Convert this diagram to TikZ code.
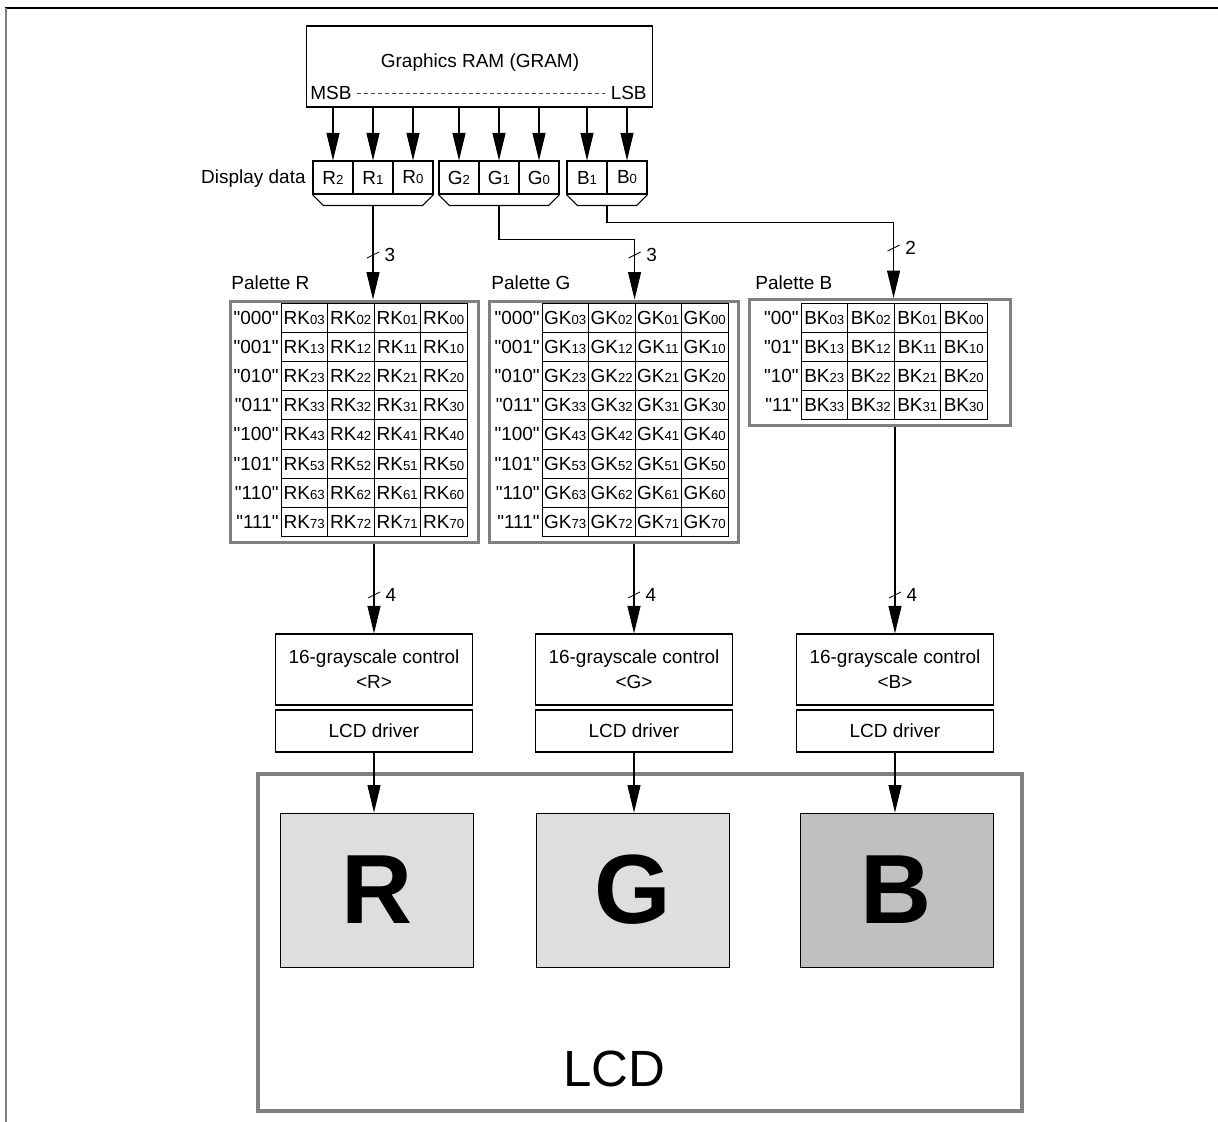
\documentclass[tikz,border=0pt]{standalone}
\usepackage{fontspec}
\newfontfamily\arial{Liberation Sans}
\usetikzlibrary{arrows.meta,calc}
\definecolor{frameGray}{RGB}{128,128,128}
\definecolor{panelLight}{RGB}{222,222,222}
\definecolor{panelDark}{RGB}{192,192,192}
\newcommand{\sbs}[1]{{\fontsize{7.5}{8}\selectfont #1}}

\begin{document}
\begin{tikzpicture}[
    x=0.02cm, y=-0.02cm,
    >={Triangle[length=0.55cm, width=0.26cm]},
    font=\arial\fontsize{10.8}{14.2}\selectfont,
    lbl/.style={inner sep=0pt},
    box/.style={draw, line width=0.6pt, inner sep=0pt, align=center},
    bit/.style={box, minimum width=0.8cm, minimum height=0.66cm},
    entry/.style={draw, line width=0.5pt, inner sep=0pt,
        minimum width=0.93cm, minimum height=0.584cm},
    palette/.style={draw=frameGray, line width=1.7pt, inner sep=0pt},
    arr/.style={line width=0.6pt, ->},
    bus/.style={line width=0.5pt},
    panel/.style={draw, line width=0.5pt, minimum width=3.86cm, minimum height=3.08cm,
        font=\arial\bfseries\fontsize{56}{56}\selectfont}
]
\useasboundingbox (0,0) rectangle (1218,1122);

% page frame
\draw[line width=0.9pt] (5,8) -- (1218,8);
\draw[frameGray, line width=1pt] (6,8) -- (6,1122);

% GRAM
\node[box, minimum width=6.94cm, minimum height=1.62cm] (gram) at (479.5,66.5) {};
\node[lbl] (gramlbl) at (480,63) {Graphics RAM (GRAM)};
\node[lbl, anchor=west] (msb) at (310,93) {MSB};
\node[lbl, anchor=east] (lsb) at (647,93) {LSB};
\draw[black!70, line width=0.4pt, dash pattern=on 0.08cm off 0.06cm,
    shorten <=0.1cm, shorten >=0.1cm] (msb.east) -- (lsb.west);

% display data
\node[lbl, anchor=east] (ddlbl) at (306,179) {Display data};
\foreach \c/\b/\x in {R/2/333, R/1/373, R/0/413, G/2/459, G/1/499, G/0/539, B/1/587, B/0/627} {
    \node[bit] (d\c\b) at (\x,177.5) {\c\sbs{\b}};
    \draw[arr] (d\c\b |- gram.south) -- (d\c\b.north);
}
\foreach \a/\z/\t in {dR2/dR0/tR, dG2/dG0/tG, dB1/dB0/tB} {
    \draw[line width=0.6pt] (\a.south west) -- ++(11,11) -- ($(\z.south east)+(-11,11)$) -- (\z.south east);
    \coordinate (\t) at ($(\a.south west)!0.5!(\z.south east)+(0,11)$);
}

% palettes
\node[palette, minimum width=4.98cm, minimum height=4.84cm] (palR) at (354.5,422) {};
\node[palette, minimum width=5cm, minimum height=4.84cm] (palG) at (614,422) {};
\node[palette, minimum width=5.24cm, minimum height=2.52cm] (palB) at (880,362.5) {};
\node[lbl, anchor=west] (plR) at (231,283) {Palette R};
\node[lbl, anchor=west] (plG) at (491,283) {Palette G};
\node[lbl, anchor=west] (plB) at (755,283) {Palette B};

\foreach \ch/\xo in {R/281, G/542} {
    \foreach \r/\bin in {0/000,1/001,2/010,3/011,4/100,5/101,6/110,7/111} {
        \node[lbl, anchor=east] at ({\xo-2},{303+29.2*(\r+0.5)}) {"\bin"};
        \foreach \c in {0,...,3} {
            \pgfmathtruncatemacro\k{3-\c}
            \node[entry] (\ch k\r\k) at ({\xo+46.5*(\c+0.5)},{303+29.2*(\r+0.5)}) {\ch K\sbs{\r\k}};
        }
    }
}
\foreach \r/\bin in {0/00,1/01,2/10,3/11} {
    \node[lbl, anchor=east] at (799,{303+29.2*(\r+0.5)}) {"\bin"};
    \foreach \c in {0,...,3} {
        \pgfmathtruncatemacro\k{3-\c}
        \node[entry] (Bk\r\k) at ({801+46.5*(\c+0.5)},{303+29.2*(\r+0.5)}) {BK\sbs{\r\k}};
    }
}

% data to palettes
\draw[arr] (tR) -- (tR |- palR.north);
\draw[arr] (tG) -- ++(0,34) -| (Gk01.north west |- palG.north);
\draw[arr] (tB) -- ++(0,17) -| (Bk01.north west |- palB.north);
\coordinate (upR) at (tR |- 0,255);
\coordinate (upG) at (Gk01.north west |- 0,255);
\coordinate (upB) at (Bk01.north west |- 0,248);
\foreach \p/\n in {upR/3, upG/3, upB/2} {
    \draw[bus] (\p) +(-6,3) -- +(6,-3);
    \node[lbl] at ($(\p)+(17,0)$) {\n};
}

% LCD
\node[draw=frameGray, line width=2.3pt, minimum width=15.28cm, minimum height=6.74cm] (lcd) at (640,942.5) {};
\node[font=\arial\fontsize{29}{30}\selectfont] (lcdlbl) at (614,1069) {LCD};

% grayscale control, driver, panels
\foreach \ch/\x/\pc/\fillc in {R/374/377/panelLight, G/634/632.5/panelLight, B/895/896.5/panelDark} {
    \node[box, minimum width=3.94cm, minimum height=1.42cm] (gs\ch) at (\x,669.5) {16-grayscale control\\<\ch>};
    \node[box, minimum width=3.94cm, minimum height=0.84cm] (drv\ch) at (\x,731) {LCD driver};
    \node[panel, fill=\fillc] (pan\ch) at (\pc,890) {\ch};
    \draw[arr] (gs\ch.north |- pal\ch.south) -- (gs\ch.north);
    \draw[arr] (drv\ch.south) -- (drv\ch.south |- pan\ch.north);
    \coordinate (lo\ch) at (gs\ch.north |- 0,595);
    \draw[bus] (lo\ch) +(-6,3) -- +(6,-3);
    \node[lbl] at ($(lo\ch)+(17,0)$) {4};
}

\end{tikzpicture}
\end{document}
